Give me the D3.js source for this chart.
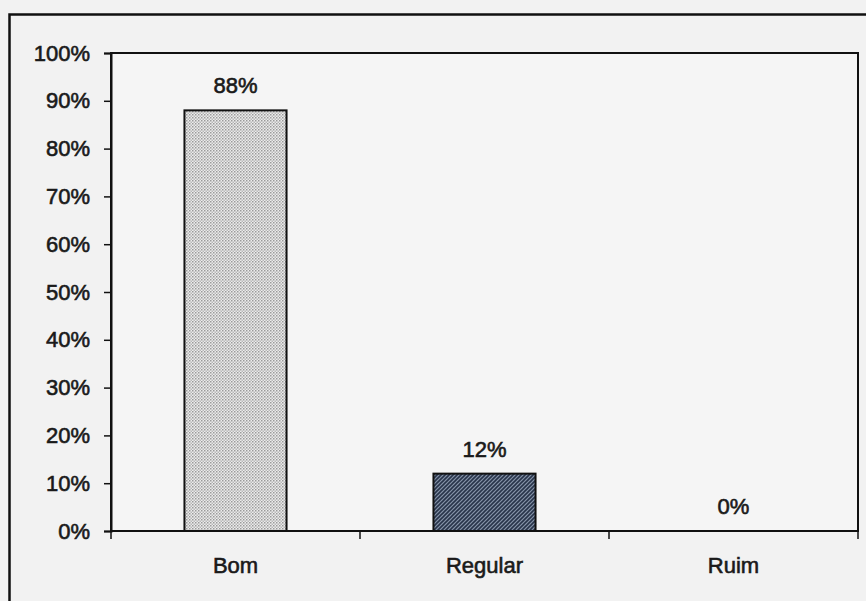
<!DOCTYPE html>
<html>
<head>
<meta charset="utf-8">
<script src="https://cdn.jsdelivr.net/npm/d3@7"></script>
<style>
  html, body { margin: 0; padding: 0; background: #f2f2f2; }
  svg { display: block; }
  text { font-family: "Liberation Sans", Arial, sans-serif; fill: #1a1a1a; stroke: #1a1a1a; stroke-width: 0.6; }
</style>
</head>
<body>
<svg id="chart" width="866" height="601"></svg>
<script>
// Rating distribution
const categories = ["Bom", "Regular", "Ruim"];
const shares = [0.88, 0.12, 0.00];
const valueLabels = ["88%", "12%", "0%"];
const yTickValues = [0, 0.1, 0.2, 0.3, 0.4, 0.5, 0.6, 0.7, 0.8, 0.9, 1.0];

const svg = d3.select("#chart");
const W = 866, H = 601;
const plot = { left: 111, right: 858, top: 53, bottom: 531 };
const fontSize = 22;

// fill patterns for the two bars
const defs = svg.append("defs");
const dots = defs.append("pattern")
  .attr("id", "dots").attr("patternUnits", "userSpaceOnUse")
  .attr("width", 3).attr("height", 3);
dots.append("rect").attr("width", 3).attr("height", 3).attr("fill", "#ececec");
dots.append("rect").attr("x", 0).attr("y", 0).attr("width", 1.5).attr("height", 1.5).attr("fill", "#9a9a9a");
dots.append("rect").attr("x", 1.5).attr("y", 1.5).attr("width", 1.5).attr("height", 1.5).attr("fill", "#b8b8b8");

const hatch = defs.append("pattern")
  .attr("id", "hatch").attr("patternUnits", "userSpaceOnUse")
  .attr("width", 4).attr("height", 4);
hatch.append("rect").attr("width", 4).attr("height", 4).attr("fill", "#8593a8");
hatch.append("path").attr("d", "M-1,1 L1,-1 M0,4 L4,0 M3,5 L5,3")
  .attr("stroke", "#28344a").attr("stroke-width", 1.6);

// outer chart frame (runs off the right and bottom edges)
svg.append("rect")
  .attr("x", 9.5).attr("y", 14.5).attr("width", W + 20).attr("height", H + 20)
  .attr("fill", "#f2f2f2").attr("stroke", "#111").attr("stroke-width", 2.5);

// plot area
svg.append("rect")
  .attr("x", plot.left).attr("y", plot.top)
  .attr("width", plot.right - plot.left).attr("height", plot.bottom - plot.top)
  .attr("fill", "#f5f5f5").attr("stroke", "#111").attr("stroke-width", 2);

const x = d3.scaleBand().domain(categories)
  .range([plot.left, plot.right]).paddingInner(0.59).paddingOuter(0.295);
const y = d3.scaleLinear().domain([0, 1]).range([plot.bottom, plot.top]);

// y axis
const yAxis = svg.append("g").attr("transform", `translate(${plot.left},0)`)
  .call(d3.axisLeft(y).tickValues(yTickValues).tickFormat(d3.format(".0%")).tickSize(7).tickPadding(14));
yAxis.select(".domain").attr("stroke", "#111").attr("stroke-width", 2);
yAxis.selectAll(".tick line").attr("stroke", "#111").attr("stroke-width", 1.5);
yAxis.selectAll(".tick text").attr("font-size", fontSize).attr("fill", "#1a1a1a")
  .attr("font-family", "Liberation Sans, Arial, sans-serif");

// category boundary ticks below the baseline
const step = x.step();
const boundaries = d3.range(categories.length + 1).map(i => plot.left + i * step);
svg.append("g").selectAll("line").data(boundaries).join("line")
  .attr("x1", d => d).attr("x2", d => d)
  .attr("y1", plot.bottom).attr("y2", plot.bottom + 8)
  .attr("stroke", "#111").attr("stroke-width", 1.5);

// bars
const fills = ["url(#dots)", "url(#hatch)", "#888"];
svg.append("g").selectAll("rect").data(categories).join("rect")
  .attr("x", d => x(d)).attr("width", x.bandwidth())
  .attr("y", (d, i) => y(shares[i]))
  .attr("height", (d, i) => y(0) - y(shares[i]))
  .attr("fill", (d, i) => fills[i])
  .attr("stroke", "#111").attr("stroke-width", 2)
  .style("display", (d, i) => shares[i] > 0 ? null : "none");

// baseline over the bars
svg.append("line")
  .attr("x1", plot.left).attr("x2", plot.right)
  .attr("y1", plot.bottom).attr("y2", plot.bottom)
  .attr("stroke", "#111").attr("stroke-width", 2);

// value labels
svg.append("g").selectAll("text").data(categories).join("text")
  .attr("x", d => x(d) + x.bandwidth() / 2)
  .attr("y", (d, i) => y(shares[i]) - 17)
  .attr("text-anchor", "middle").attr("font-size", fontSize)
  .text((d, i) => valueLabels[i]);

// category labels
svg.append("g").selectAll("text").data(categories).join("text")
  .attr("x", d => x(d) + x.bandwidth() / 2)
  .attr("y", 573)
  .attr("text-anchor", "middle").attr("font-size", fontSize)
  .text(d => d);
</script>
</body>
</html>
